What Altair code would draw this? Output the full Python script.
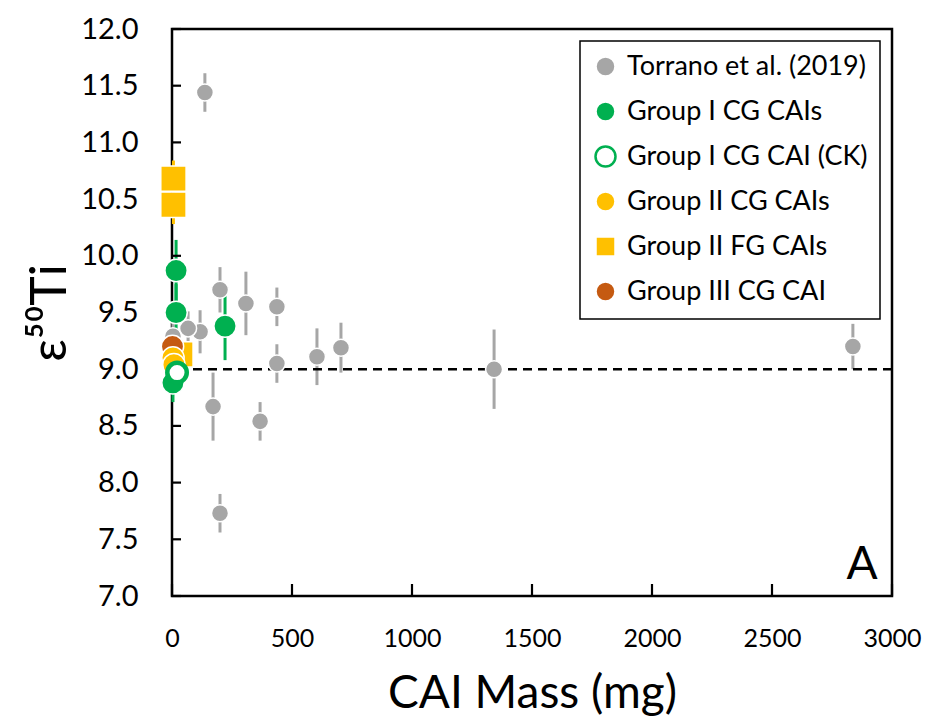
import altair as alt
import pandas as pd

# ---- data ----
cats = ["Torrano et al. (2019)", "Group I CG CAIs", "Group I CG CAI (CK)",
        "Group II CG CAIs", "Group II FG CAIs", "Group III CG CAI"]
fills = ["#A6A6A6", "#00B050", "#FFFFFF", "#FFC000", "#FFC000", "#C55A11"]
strokes = ["#FFFFFF", "#FFFFFF", "#00B050", "#FFFFFF", "#FFFFFF", "#FFFFFF"]
bar_colors = ["#A6A6A6", "#00B050", "#00B050", "#FFC000", "#FFC000", "#C55A11"]
shapes = ["circle", "circle", "circle", "circle", "square", "circle"]

torrano_mass = [137, 200, 308, 437, 437, 604, 704, 1342, 2837, 171, 367, 200, 4, 117, 67]
torrano_eps = [11.44, 9.70, 9.58, 9.55, 9.05, 9.11, 9.19, 9.00, 9.20, 8.67, 8.54, 7.73, 9.29, 9.33, 9.36]
torrano_err = [0.17, 0.20, 0.28, 0.17, 0.17, 0.25, 0.22, 0.35, 0.20, 0.30, 0.17, 0.17, 0.15, 0.19, 0.15]

g2fg_mass = [6, 6, 35]
g2fg_eps = [10.68, 10.45, 9.13]
g2fg_err = [0.16, 0.17, 0.10]

g3_mass = [2]
g3_eps = [9.20]
g3_err = [0.10]

g2cg_mass = [4, 8]
g2cg_eps = [9.10, 9.04]
g2cg_err = [0.10, 0.10]

g1_mass = [17, 17, 221, 4]
g1_eps = [9.87, 9.50, 9.38, 8.88]
g1_err = [0.27, 0.25, 0.30, 0.17]

ck_mass = [21]
ck_eps = [8.97]
ck_err = [0.0]

ref_line = [9.0]
x_ticks = [0, 500, 1000, 1500, 2000, 2500, 3000]
y_ticks = [7.0, 7.5, 8.0, 8.5, 9.0, 9.5, 10.0, 10.5, 11.0, 11.5, 12.0]
panel_label = ["A"]
panel_pos = [2875, 7.27]

# ---- build table (drawing order: later on top) ----
groups = [
    (cats[0], torrano_mass, torrano_eps, torrano_err, 290, 1.5),
    (cats[4], g2fg_mass, g2fg_eps, g2fg_err, 640, 1.5),
    (cats[5], g3_mass, g3_eps, g3_err, 500, 1.5),
    (cats[3], g2cg_mass, g2cg_eps, g2cg_err, 500, 1.5),
    (cats[1], g1_mass, g1_eps, g1_err, 500, 1.5),
    (cats[2], ck_mass, ck_eps, ck_err, 380, 4.5),
]
bar_map = dict(zip(cats, bar_colors))
rows = []
k = 0
for cat, ms, es, ers, sz, sw in groups:
    for m, e, er in zip(ms, es, ers):
        rows.append({"cat": cat, "mass": m, "eps": e, "lo": e - er, "hi": e + er,
                     "sz": sz, "sw": sw, "ord": k, "barcol": bar_map[cat]})
        k += 1
df = pd.DataFrame(rows)
df_err = df[df["hi"] > df["lo"]]

FONT = "Lato"
xscale = alt.Scale(domain=[0, 3000], nice=False, zero=True)
yscale = alt.Scale(domain=[7, 12], nice=False, zero=False)

xaxis = alt.Axis(values=x_ticks, format="d", tickSize=0, domain=False, grid=False,
                 labelFontSize=25, labelPadding=30, labelFont=FONT, labelColor="black",
                 labelFlush=False,
                 title="CAI Mass (mg)", titleFontSize=46, titleFont=FONT,
                 titleFontWeight="normal", titleColor="black", titlePadding=20)
yaxis = alt.Axis(values=y_ticks, format=".1f", tickSize=0, domain=False, grid=False,
                 labelFontSize=29, labelPadding=34, labelFont=FONT, labelColor="black",
                 labelFlush=False,
                 title="ε⁵⁰Ti", titleFontSize=50, titleFont=FONT,
                 titleFontWeight="normal", titleColor="black", titlePadding=5)

legend = alt.Legend(
    title=None, orient="top-right", offset=12,
    labelFontSize=27, labelFont=FONT, labelColor="black", labelLimit=400,
    symbolSize=400, symbolStrokeWidth=2.5, rowPadding=14, labelOffset=8, padding=12,
    strokeColor="black",
)

errbars = alt.Chart(df_err).mark_rule(strokeWidth=3).encode(
    x=alt.X("mass:Q", scale=xscale, axis=xaxis),
    y=alt.Y("lo:Q", scale=yscale, axis=yaxis),
    y2="hi:Q",
    color=alt.Color("barcol:N", scale=None, legend=None),
)

dash = alt.Chart(pd.DataFrame({"y": ref_line})).mark_rule(
    color="black", strokeWidth=2.4, strokeDash=[9, 6]
).encode(y=alt.Y("y:Q", scale=yscale))

xt = alt.Chart(pd.DataFrame({"x": x_ticks})).mark_rule(color="black", strokeWidth=2.2).encode(
    x=alt.X("x:Q", scale=xscale), y=alt.value(567), y2=alt.value(555))
yt = alt.Chart(pd.DataFrame({"y": y_ticks})).mark_rule(color="black", strokeWidth=2.2).encode(
    y=alt.Y("y:Q", scale=yscale), x=alt.value(0), x2=alt.value(9))

points = alt.Chart(df).mark_point(filled=True, opacity=1).encode(
    x=alt.X("mass:Q", scale=xscale),
    y=alt.Y("eps:Q", scale=yscale),
    fill=alt.Fill("cat:N", scale=alt.Scale(domain=cats, range=fills), legend=legend),
    stroke=alt.Stroke("cat:N", scale=alt.Scale(domain=cats, range=strokes), legend=legend),
    shape=alt.Shape("cat:N", scale=alt.Scale(domain=cats, range=shapes), legend=legend),
    strokeWidth=alt.StrokeWidth("sw:Q", scale=None, legend=None),
    size=alt.Size("sz:Q", scale=None, legend=None),
    order=alt.Order("ord:Q"),
)

label = alt.Chart(pd.DataFrame({"t": panel_label, "x": [panel_pos[0]], "y": [panel_pos[1]]})).mark_text(
    fontSize=46, font=FONT, color="black", align="center", baseline="middle"
).encode(x=alt.X("x:Q", scale=xscale), y=alt.Y("y:Q", scale=yscale), text="t:N")

chart = alt.layer(errbars, dash, xt, yt, points, label).properties(
    width=720, height=567,
    autosize=alt.AutoSizeParams(type="none"),
    padding={"left": 164, "top": 21, "right": 30, "bottom": 124},
).configure_view(stroke="black", strokeWidth=2.5).configure_legend(strokeWidth=1.5)

chart.save("out.html", embed_options={"renderer": "svg", "actions": False})
